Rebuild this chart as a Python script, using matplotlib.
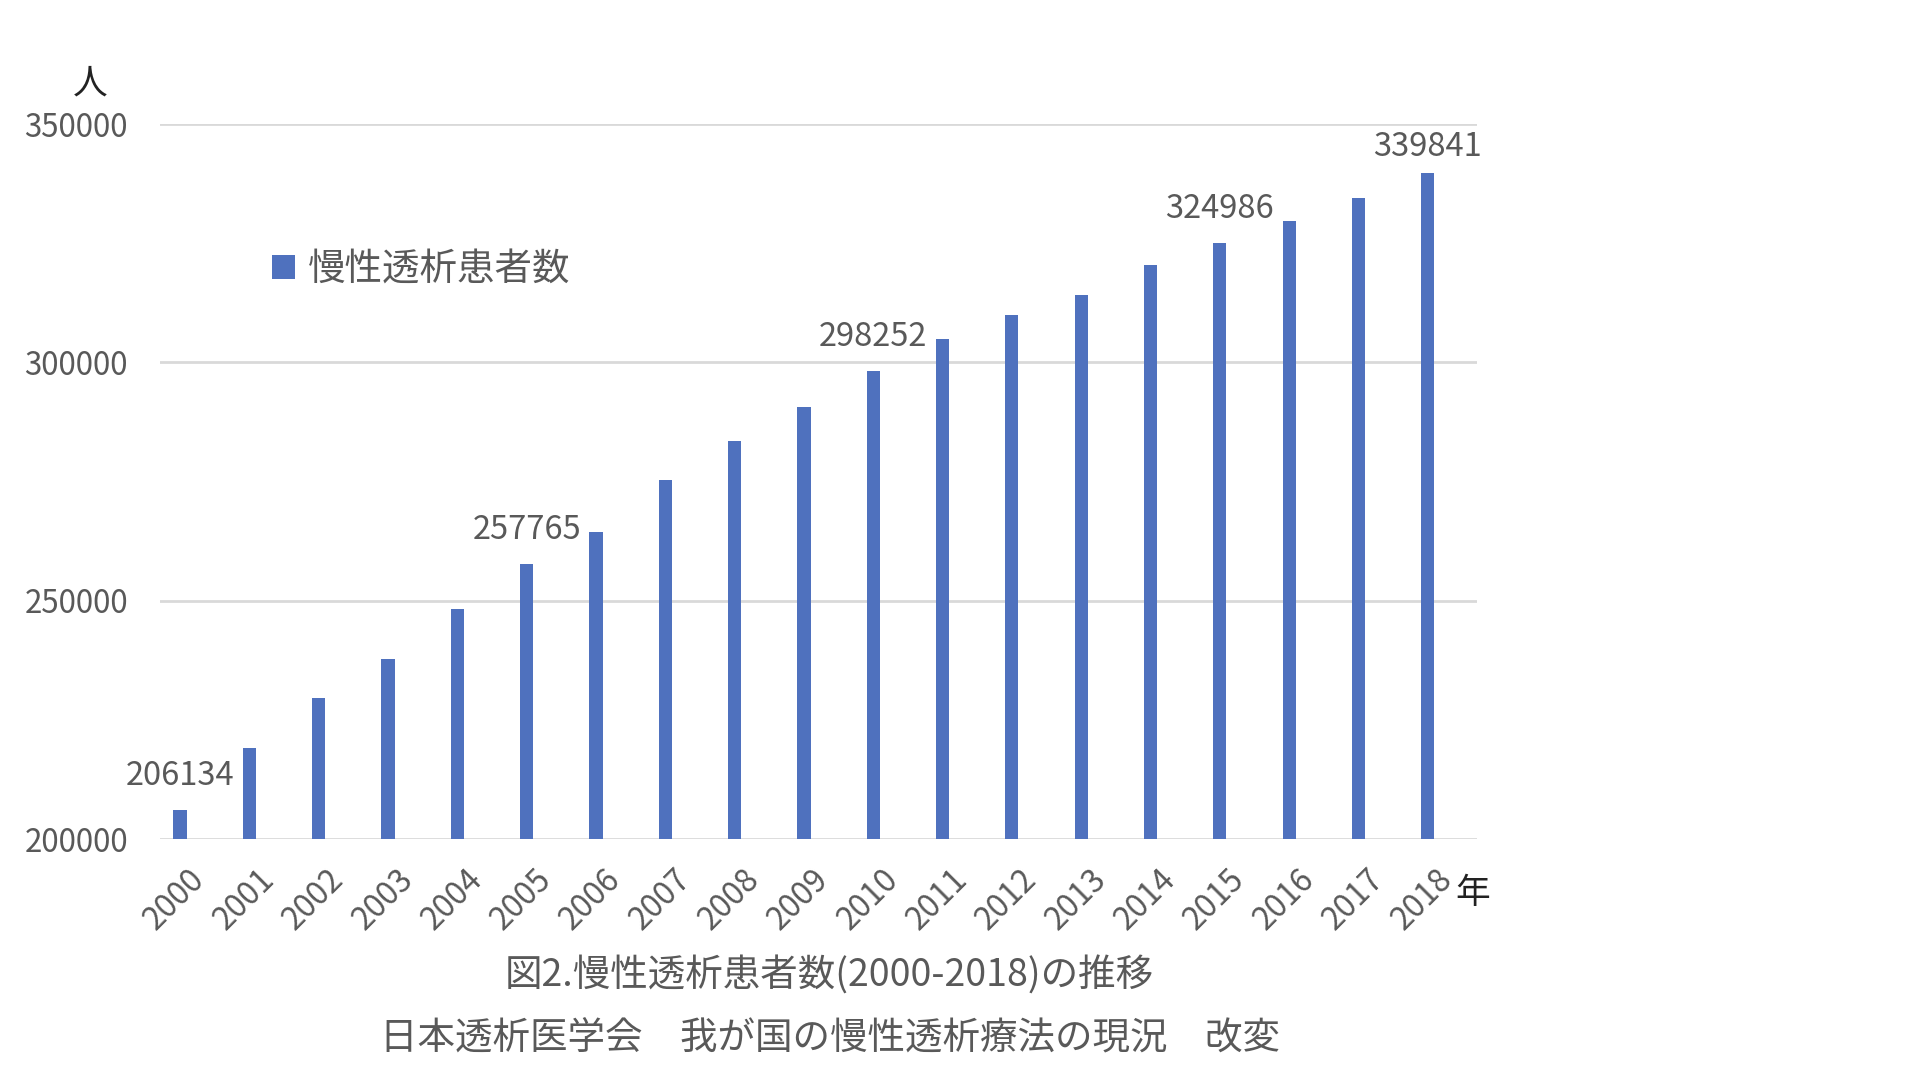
import matplotlib
matplotlib.use('Agg')
import matplotlib.pyplot as plt
import matplotlib.transforms as mtransforms

plt.rcParams['font.family'] = ['Noto Sans CJK JP', 'DejaVu Sans']

# data: chronic dialysis patients per year
years = ['2000', '2001', '2002', '2003', '2004', '2005', '2006', '2007', '2008', '2009',
         '2010', '2011', '2012', '2013', '2014', '2015', '2016', '2017', '2018']
patients = [206134, 219183, 229538, 237710, 248166, 257765, 264473, 275242, 283421, 290661,
            298252, 304856, 310007, 314180, 320448, 324986, 329609, 334505, 339841]
labelled = ['2000', '2005', '2010', '2015', '2018']
yticks = [200000, 250000, 300000, 350000]

series_name = '慢性透析患者数'
caption1 = '図2.慢性透析患者数(2000-2018)の推移'
caption2 = '日本透析医学会　我が国の慢性透析療法の現況　改変'

gray = '#595959'
blue = '#4f71be'

fig = plt.figure(figsize=(19.2, 10.8), dpi=100)
ax = fig.add_axes([0.0833, 0.2231, 0.6860, 0.6620])

x = list(range(len(years)))
ax.bar(x, patients, width=0.19, color=blue, label=series_name, zorder=3)

# value labels on selected bars (the top one sits closer, as in the original)
for i, (yr, v) in enumerate(zip(years, patients)):
    if yr in labelled:
        dy = 7 if i == len(years) - 1 else 13
        ax.annotate(str(v), xy=(i, v), xytext=(0, dy), textcoords='offset points',
                    ha='center', va='bottom', fontsize=23.5, color=gray)

ax.set_xlim(-0.29, len(years) - 0.29)
ax.set_ylim(200000, 350000)
ax.set_yticks(yticks)
ax.set_yticklabels([str(t) for t in yticks], fontsize=22.5, color=gray)
ax.yaxis.grid(True, color='#d9d9d9', linewidth=2, zorder=0)
ax.tick_params(axis='y', length=0, pad=23)
ax.tick_params(axis='x', length=0, pad=4)

ax.set_xticks(x)
ax.set_xticklabels(years, fontsize=23, color=gray, rotation=45,
                   ha='right', va='center', rotation_mode='anchor')
offset = mtransforms.ScaledTranslation(0.20, -0.30, fig.dpi_scale_trans)
for lab in ax.get_xticklabels():
    lab.set_transform(lab.get_transform() + offset)

for s in ax.spines.values():
    s.set_visible(False)

# axis unit labels
fig.text(90 / 1920, 1 - 84 / 1080, '人', fontsize=25, color='#222222', ha='center', va='center')
fig.text(1473 / 1920, 1 - 893 / 1080, '年', fontsize=25, color='#222222', ha='center', va='center')

# legend
ax.legend(loc='center left', bbox_to_anchor=(272 / 1920, 1 - 270 / 1080),
          bbox_transform=fig.transFigure, frameon=False, fontsize=27,
          handlelength=0.6, handleheight=0.6, handletextpad=0.35,
          labelcolor=gray, borderpad=0, borderaxespad=0)

# captions
fig.text(829 / 1920, 1 - 976 / 1080, caption1, fontsize=27, color=gray, ha='center', va='center')
fig.text(830 / 1920, 1 - 1039 / 1080, caption2, fontsize=27, color=gray, ha='center', va='center')

fig.savefig('out.png', dpi=100)
